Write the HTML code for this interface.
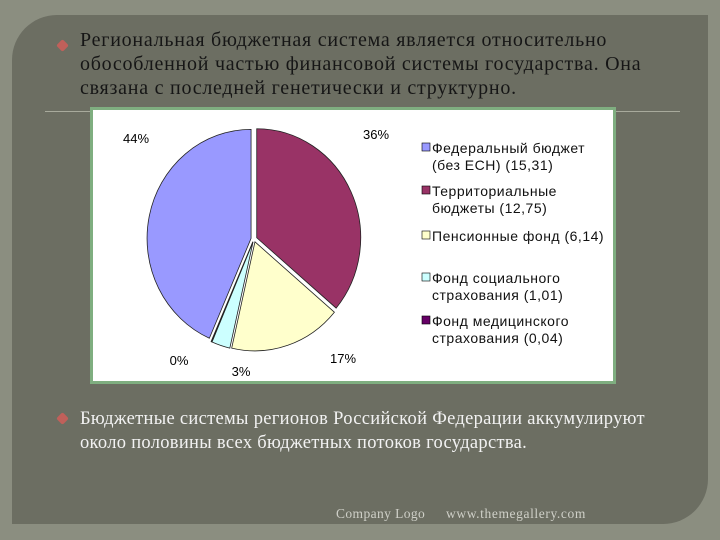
<!DOCTYPE html>
<html><head><meta charset="utf-8">
<style>
body{margin:0;width:720px;height:540px;overflow:hidden;background:#4e5047;font-family:"Liberation Serif",serif}
#frame{position:absolute;left:0;top:0;width:720px;height:540px;background:#8b8e80}
#panel{position:absolute;left:12px;top:15px;width:696px;height:509px;background:#6c6e62;border-top-left-radius:45px;border-bottom-right-radius:45px}
.t{position:absolute;font-size:20px;line-height:24px;letter-spacing:0.75px;white-space:nowrap}
.b{position:absolute;width:9px;height:9px;background:#c0605a;transform:rotate(45deg);border-radius:2px}
#rule{position:absolute;left:45px;top:111px;width:635px;height:1px;background:#a8aa9c}
#chart{position:absolute;left:90px;top:107px;width:520px;height:271px;border:3px solid #7fae80;background:#fff}
</style></head><body>
<div id="frame"></div>
<div id="panel"></div>
<div class="b" style="left:58px;top:41px"></div>
<div class="t" style="left:80px;top:28px;color:#161616">Региональная бюджетная система является относительно<br>обособленной частью финансовой системы государства. Она<br>связана с последней генетически и структурно.</div>
<div id="rule"></div>
<div id="chart">
<svg id="svg" width="520" height="271" style="font-family:'Liberation Sans',sans-serif;font-size:13px"></svg>
</div>
<div class="b" style="left:58px;top:414px"></div>
<div class="t" style="left:80px;top:407px;color:#f2f2f2;font-size:18.5px;letter-spacing:0.3px">Бюджетные системы регионов Российской Федерации аккумулируют<br>около половины всех бюджетных потоков государства.</div>
<div class="t" style="left:336px;top:506px;font-size:13.5px;letter-spacing:0.4px;line-height:16px;color:#cfd0c8">Company Logo</div>
<div class="t" style="left:446px;top:506px;font-size:13.5px;letter-spacing:0.6px;line-height:16px;color:#cfd0c8">www.themegallery.com</div>
<script>
const categories=["Федеральный бюджет (без ЕСН) (15,31)","Территориальные бюджеты (12,75)","Пенсионные фонд (6,14)","Фонд социального страхования (1,01)","Фонд медицинского страхования (0,04)"];
const values=[15.31,12.75,6.14,1.01,0.04];
const pctLabels=["44%","36%","17%","3%","0%"];
const colors=["#9999ff","#993366","#ffffcc","#ccffff","#660066"];
const legendLines=[["Федеральный бюджет","(без ЕСН) (15,31)"],["Территориальные","бюджеты (12,75)"],["Пенсионные фонд (6,14)"],["Фонд социального","страхования (1,01)"],["Фонд медицинского","страхования (0,04)"]];
const svg=document.getElementById('svg');const NS='http://www.w3.org/2000/svg';
const cx=161,cy=129,rx=104,ry=109;
const total=values.reduce((a,b)=>a+b,0);
const order=[1,2,3,4,0];
let a=0;
const labelPos={0:[-118,-96],1:[122,-100],2:[89,124],3:[-13,137],4:[-75,126]};
order.forEach(i=>{
 const sw=values[i]/total*2*Math.PI;const mid=a+sw/2;
 const ox=3*Math.sin(mid),oy=-3*Math.cos(mid);
 const x1=cx+ox+rx*Math.sin(a),y1=cy+oy-ry*Math.cos(a),x2=cx+ox+rx*Math.sin(a+sw),y2=cy+oy-ry*Math.cos(a+sw);
 const p=document.createElementNS(NS,'path');
 p.setAttribute('d',`M${cx+ox},${cy+oy}L${x1},${y1}A${rx},${ry} 0 ${sw>Math.PI?1:0} 1 ${x2},${y2}Z`);
 p.setAttribute('fill',colors[i]);p.setAttribute('stroke','#222');p.setAttribute('stroke-width','0.8');
 
 
 svg.appendChild(p);
 const t=document.createElementNS(NS,'text');
 t.setAttribute('x',cx+labelPos[i][0]);t.setAttribute('y',cy+labelPos[i][1]);t.setAttribute('text-anchor','middle');t.textContent=pctLabels[i];
 
 
 svg.appendChild(t);
 a+=sw;
});
const ly=[43,86,131,173,216];
legendLines.forEach((ls,i)=>{
 const s=document.createElementNS(NS,'rect');
 s.setAttribute('x',329);s.setAttribute('y',ly[i]-10);s.setAttribute('width',8);s.setAttribute('height',8);s.setAttribute('fill',colors[i]);s.setAttribute('stroke','#000');s.setAttribute('stroke-width','0.6');
 
 
 svg.appendChild(s);
 ls.forEach((l,j)=>{const t=document.createElementNS(NS,'text');t.setAttribute('x',339);t.setAttribute('y',ly[i]+j*17);t.setAttribute('fill','#111');t.setAttribute('font-size','14');t.setAttribute('letter-spacing','0.5');t.textContent=l;
 
 
 svg.appendChild(t);});
});
</script>
</body></html>
